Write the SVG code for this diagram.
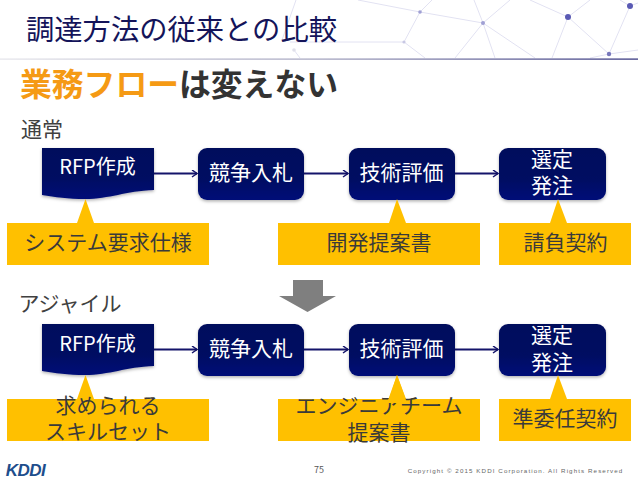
<svg xmlns="http://www.w3.org/2000/svg" width="638" height="479" viewBox="0 0 638 479">
<defs>
<linearGradient id="nv" x1="0" y1="0" x2="0" y2="1"><stop offset="0" stop-color="#000a5c"/><stop offset="0.6" stop-color="#000a62"/><stop offset="1" stop-color="#000f78"/></linearGradient>
<linearGradient id="rule" x1="0" y1="0" x2="1" y2="0"><stop offset="0" stop-color="#e4e4ea"/><stop offset="0.5" stop-color="#a0a0bc"/><stop offset="1" stop-color="#2a2a78"/></linearGradient>
<filter id="sh" x="-10%" y="-10%" width="120%" height="125%"><feDropShadow dx="0" dy="1.5" stdDeviation="1.5" flood-color="#000" flood-opacity="0.3"/></filter>
<filter id="bl"><feGaussianBlur stdDeviation="0.7"/></filter>
<marker id="ah" markerWidth="8" markerHeight="10" refX="6.5" refY="4" orient="auto" markerUnits="userSpaceOnUse"><path d="M1.500 0.500L6.500 4L1.500 7.500" fill="none" stroke="#14146a" stroke-width="1.500"/></marker>
</defs>
<style>
text{font-family:"Noto Sans CJK JP","Noto Sans",sans-serif;text-anchor:middle}
.n{fill:url(#nv);filter:url(#sh)}
.w{fill:#fff;font-size:21px}
.r{fill:#fff;font-size:20px}
.y{fill:#ffc000}
.k{fill:#3a3a3a;font-size:21px}
.c{stroke:#14146a;stroke-width:1.800;fill:none;marker-end:url(#ah)}
</style>
<rect width="638" height="479" fill="#fff"/>
<g id="bg" filter="url(#bl)" stroke="#e2e2f2" stroke-width="1" fill="none">
<path d="M420 12L358 0M420 12L432 0M420 12L404 42L425 58M290 42L404 42M420 12L483 23L455 58M483 23L474 0M483 23L495 58M483 23L535 58M483 23L510 0M568 17L552 58M568 17L609 54M568 17L530 0M568 17L590 0M630 6L609 54M630 6L638 3M609 54L638 50M609 54L590 58M630 6L620 0M294 50L300 58M296 0L282 40"/>
<g fill="#a0a0d4" stroke="none"><circle cx="420" cy="12" r="1.800"/><circle cx="483" cy="23" r="2"/><circle cx="404" cy="42" r="1.600" fill="#c8c8e4"/><circle cx="568" cy="17" r="3" fill="#5a5ab4"/><circle cx="609" cy="54" r="2.200" fill="#7878bc"/><circle cx="630" cy="6" r="3" fill="#5a5ab4"/><circle cx="294" cy="50" r="1.800" fill="#e0e0ea"/></g>
</g>
<rect x="0" y="58.500" width="638" height="1.200" fill="url(#rule)"/>
<text x="181.500" y="40" style="font-size:28.300px;fill:#14145a">調達方法の従来との比較</text>
<text x="20" y="96" style="font-size:31.800px;font-weight:700;text-anchor:start;fill:#f59a14">業務フロー<tspan fill="#333">は変えない</tspan></text>
<text x="42" y="137" style="font-size:21px;fill:#404040">通常</text>
<text x="70" y="311" style="font-size:21px;fill:#404040">アジャイル</text>
<g id="connectors">
<path class="c" d="M154 173.500H197"/><path class="c" d="M304 173.500H348"/><path class="c" d="M455 173.500H498"/>
<path class="c" d="M154 349.500H197"/><path class="c" d="M304 349.500H348"/><path class="c" d="M455 349.500H498"/>
</g>
<g id="down-arrow"><path d="M293 280H323V296H336L307.500 312L279 296H293Z" fill="#7f7f7f"/></g>
<g id="top-rfp"><path class="n" d="M42 148H154V190C125 191 110 199 85 199C68 199 55 197 42 195Z"/><text class="r" x="97.500" y="174">RFP作成</text></g>
<g id="top-nyusatsu"><rect class="n" x="198" y="148" width="106" height="52" rx="9"/><text class="w" x="251" y="180">競争入札</text></g>
<g id="top-hyoka"><rect class="n" x="349" y="148" width="106" height="52" rx="9"/><text class="w" x="401.500" y="180">技術評価</text></g>
<g id="top-hatchu"><rect class="n" x="499" y="148" width="107" height="52" rx="9"/><text class="w" x="552"><tspan x="552" y="166.500">選定</tspan><tspan x="552" y="193">発注</tspan></text></g>
<g id="top-spec"><path class="y" d="M7 223H77L85.500 199L94 223H209V265H7Z"/><text class="k" x="108" y="250">システム要求仕様</text></g>
<g id="top-proposal"><path class="y" d="M278 223H389L397 199L406 223H480V265H278Z"/><text class="k" x="379" y="250">開発提案書</text></g>
<g id="top-contract"><path class="y" d="M499 223H550L558 199L567 223H631V265H499Z"/><text class="k" x="565.500" y="250">請負契約</text></g>
<g id="bot-rfp"><path class="n" d="M42 324H154V366C125 367 110 375 85 375C68 375 55 373 42 371Z"/><text class="r" x="97.500" y="351">RFP作成</text></g>
<g id="bot-nyusatsu"><rect class="n" x="198" y="324" width="106" height="52" rx="9"/><text class="w" x="251" y="356">競争入札</text></g>
<g id="bot-hyoka"><rect class="n" x="349" y="324" width="106" height="52" rx="9"/><text class="w" x="401.500" y="356">技術評価</text></g>
<g id="bot-hatchu"><rect class="n" x="499" y="324" width="107" height="52" rx="9"/><text class="w" x="552"><tspan x="552" y="342.500">選定</tspan><tspan x="552" y="369.500">発注</tspan></text></g>
<g id="bot-skill"><path class="y" d="M7 399H77L85.500 375L94 399H209V441H7Z"/><text class="k" x="108"><tspan x="108" y="413">求められる</tspan><tspan x="108" y="439">スキルセット</tspan></text></g>
<g id="bot-team"><path class="y" d="M278 399H389L397 375L406 399H480V441H278Z"/><text class="k" x="379"><tspan x="379" y="413">エンジニアチーム</tspan><tspan x="379" y="440">提案書</tspan></text><path class="y" d="M397 375L387 403H407Z"/></g>
<g id="bot-contract"><path class="y" d="M499 399H550L558 375L567 399H631V441H499Z"/><text class="k" x="565" y="426">準委任契約</text></g>
<g id="footer">
<text x="25.500" y="475.500" style="font-family:'Liberation Sans',sans-serif;font-size:17px;font-weight:700;font-style:italic;fill:#1e4e8c;letter-spacing:-0.500px">KDDI</text>
<text x="319" y="473" style="font-size:9px;fill:#555">75</text>
<text x="515.500" y="472.500" style="font-family:'Liberation Sans',sans-serif;font-size:6.200px;fill:#666;letter-spacing:1.100px">Copyright © 2015 KDDI Corporation. All Rights Reserved</text>
</g>
</svg>
